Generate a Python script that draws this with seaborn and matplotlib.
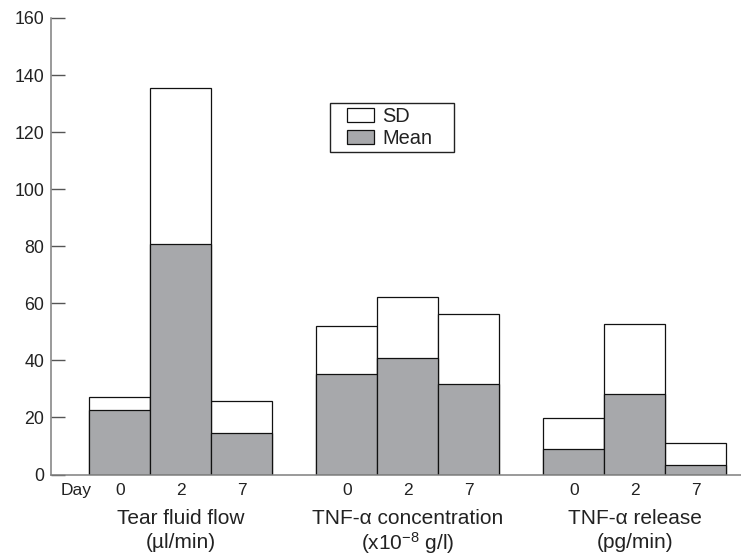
import numpy as np
import pandas as pd
import matplotlib
matplotlib.use("Agg")
import matplotlib.pyplot as plt
from matplotlib.patches import Patch, Rectangle
from matplotlib.transforms import IdentityTransform
import seaborn as sns

## DATA
group_line1 = ["Tear fluid flow", "TNF-\u03b1 concentration", "TNF-\u03b1 release"]
group_line2 = ["(\u00b5l/min)", "(x10$^{-8}$ g/l)", "(pg/min)"]
days = ["0", "2", "7"]
mean_vals = [22.7, 80.7, 14.5,
             35.3, 40.7, 31.6,
             8.8, 28.2, 3.3]
total_vals = [27.0, 135.4, 25.6,
              52.1, 62.2, 56.1,
              19.8, 52.7, 11.1]
yticks = [0, 20, 40, 60, 80, 100, 120, 140, 160]

sns.set_theme(style="white")
plt.rcParams["font.family"] = ["Liberation Sans", "DejaVu Sans"]
plt.rcParams["mathtext.fontset"] = "custom"
plt.rcParams["mathtext.rm"] = "Liberation Sans"
plt.rcParams["mathtext.it"] = "Liberation Sans"

# bar centres: 3 bars per group, gap between groups
group_step = 3.727
n_groups = len(group_line1)
pos = [g * group_step + d for g in range(n_groups) for d in range(len(days))]
df = pd.DataFrame({"pos": pos, "mean": mean_vals, "total": total_vals})

fig = plt.figure(figsize=(7.41, 5.56), dpi=100)
ax = fig.add_axes([51 / 741, 1 - 474.5 / 556, 690 / 741, 456.5 / 556])

gray = "#a7a8ab"
sns.barplot(data=df, x="pos", y="total", native_scale=True, width=1,
            color="white", saturation=1, edgecolor="#111111", linewidth=0.9,
            errorbar=None, ax=ax)
sns.barplot(data=df, x="pos", y="mean", native_scale=True, width=1,
            color=gray, saturation=1, edgecolor="#111111", linewidth=0.9,
            errorbar=None, ax=ax)

ax.set_xlim(-1.13, 10.2)
ax.set_ylim(0, 160)
ax.set_yticks(yticks)
ax.tick_params(axis="y", direction="in", length=10, width=1, color="#555555",
               labelsize=12.8, labelcolor="#222222", pad=5, left=True)
ax.set_xticks([-0.72] + pos)
ax.set_xticklabels(["Day"] + days * n_groups)
ax.tick_params(axis="x", length=0, pad=6, labelsize=12.5, labelcolor="#222222")
ax.set_xlabel("")
ax.set_ylabel("")

for s in ["top", "right"]:
    ax.spines[s].set_visible(False)
for s in ["left", "bottom"]:
    ax.spines[s].set_color("#7f7f7f")
    ax.spines[s].set_linewidth(1.1)

trans = ax.get_xaxis_transform()
for g in range(n_groups):
    cx = g * group_step + 1
    ax.text(cx, -0.0953, group_line1[g], transform=trans, ha="center", va="center",
            fontsize=15, color="#222222")
    ax.text(cx, -0.150, group_line2[g], transform=trans, ha="center", va="center",
            fontsize=15, color="#222222")

handles = [Patch(facecolor="white", edgecolor="#111111", linewidth=0.9, label="SD"),
           Patch(facecolor=gray, edgecolor="#111111", linewidth=0.9, label="Mean")]
leg = ax.legend(handles=handles, loc="upper left", bbox_to_anchor=(0.429, 0.805),
                borderaxespad=0, frameon=False, fontsize=14.4,
                handlelength=1.35, handleheight=0.65, handletextpad=0.4,
                labelspacing=0.15, borderpad=0)
for t in leg.get_texts():
    t.set_color("#222222")

# legend frame with wider side padding than top/bottom
fig.canvas.draw()
bb = leg.get_window_extent()
frame = Rectangle((bb.x0 - 17, bb.y0 - 4), bb.width + 39, bb.height + 8,
                  transform=IdentityTransform(), facecolor="none",
                  edgecolor="#222222", linewidth=1.0)
fig.add_artist(frame)

fig.savefig("out.png", dpi=100)
